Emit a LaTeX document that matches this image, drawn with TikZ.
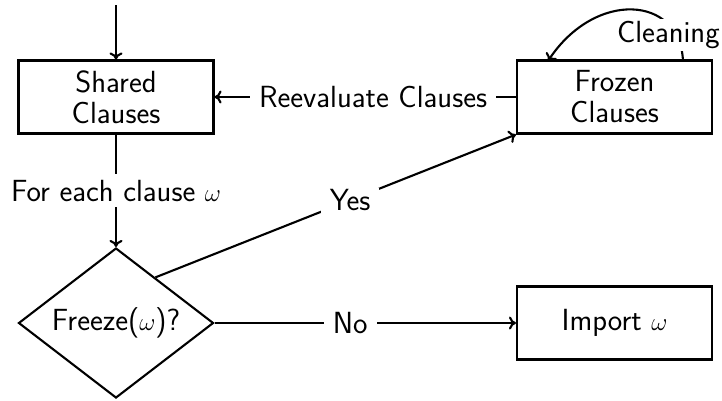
\documentclass[tikz,border=0pt]{standalone}
\usetikzlibrary{shapes.geometric,arrows.meta,calc}
\begin{document}
\begin{tikzpicture}[x=1pt,y=-1pt,
  every node/.style={font=\sffamily\fontsize{30.6}{31}\selectfont},
  box/.style={draw, line width=2.1pt, minimum width=195pt, minimum height=73pt, align=center, inner sep=0pt},
  dec/.style={draw, line width=2.1pt, shape=diamond, minimum width=195pt, minimum height=150pt, inner sep=0pt, shape aspect=1.3},
  conn/.style={line width=2.1pt, -{To[length=7pt,width=13pt]}},
  lab/.style={fill=white, inner sep=2pt}]
\useasboundingbox (0,0) rectangle (722,400);
\coordinate (in) at (116,5);
\node[box] (shared) at (116,97) {Shared\\Clauses};
\node[box] (frozen) at (614.5,97) {Frozen\\Clauses};
\node[dec] (freeze) at (116,323) {Freeze($\omega$)?};
\node[box] (import) at (614.5,323) {Import $\omega$};
\coordinate (cs) at (683,61);
\coordinate (ce) at (548,61);
\coordinate (ys) at ($(freeze.north)!0.4!(freeze.east)$);
\draw[conn] (in) -- (shared.north);
\draw[conn] (frozen.west) -- node[lab, pos=0.474, inner xsep=9pt] {Reevaluate Clauses} (shared.east);
\draw[conn] (shared.south) -- node[lab, inner sep=6pt] {For each clause $\omega$} (freeze.north);
\draw[conn] (freeze.east) -- node[lab, pos=0.45, inner xsep=9pt] {No} (import.west);
\draw[conn] (ys) -- node[lab, pos=0.54, inner xsep=9pt] {Yes} (frozen.south west);
\draw[conn] (cs) .. controls (680,-5) and (595,-10) .. node[lab, pos=0.2, xshift=-4pt, yshift=-6pt] {Cleaning} (ce);
\end{tikzpicture}
\end{document}
